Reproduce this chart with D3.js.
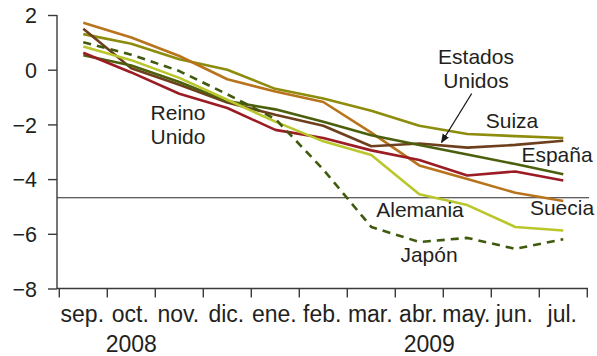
<!DOCTYPE html>
<html><head><meta charset="utf-8">
<script src="https://cdn.jsdelivr.net/npm/d3@7"></script>
<style>body{margin:0;background:#fff}svg{display:block}text{font-family:"Liberation Sans",Arial,sans-serif;fill:#231f20}</style>
</head><body>
<svg id="c" width="597" height="356"></svg>
<script>
const months = ["sep.","oct.","nov.","dic.","ene.","feb.","mar.","abr.","may.","jun.","jul."];
const yTicks = [2,0,-2,-4,-6,-8];
const refLine = -4.68;
const suiza   = [1.3, 0.95, 0.38, 0.0, -0.7, -1.05, -1.5, -2.05, -2.35, -2.43, -2.5];
const espana  = [0.53, 0.15, -0.45, -1.15, -1.45, -1.9, -2.4, -2.75, -3.1, -3.45, -3.82];
const eeuu    = [1.5, 0.05, -0.55, -1.2, -1.65, -2.05, -2.8, -2.7, -2.85, -2.75, -2.6];
const suecia  = [1.72, 1.18, 0.5, -0.35, -0.8, -1.18, -2.3, -3.5, -4.0, -4.5, -4.8];
const reino   = [0.62, -0.1, -0.88, -1.4, -2.2, -2.5, -2.95, -3.3, -3.87, -3.72, -4.05];
const alemania= [0.85, 0.35, -0.3, -1.1, -1.9, -2.62, -3.12, -4.55, -4.95, -5.75, -5.88];
const japon   = [1.0, 0.55, -0.05, -0.9, -1.8, -3.65, -5.75, -6.3, -6.15, -6.55, -6.2];

const series = [
  {name:"Suiza", v:suiza, c:"#8e8c0c"},
  {name:"Suecia", v:suecia, c:"#b8741c"},
  {name:"Estados Unidos", v:eeuu, c:"#6e3f1c"},
  {name:"España", v:espana, c:"#4b5f0c"},
  {name:"Reino Unido", v:reino, c:"#9b1c24"},
  {name:"Alemania", v:alemania, c:"#bac72c"},
  {name:"Japón", v:japon, c:"#3f5a0c", dash:"8,6"}
];

const svg = d3.select("#c");
const x = d3.scaleBand().domain(months).range([59.3, 587.3]);
const y = d3.scaleLinear().domain([-8, 2]).range([288.5, 15]);
const axisColor = "#3a3a3a";

svg.append("line").attr("x1", 57).attr("x2", 589).attr("y1", y(refLine)).attr("y2", y(refLine))
  .attr("stroke", "#2a2a2a").attr("stroke-width", 1.1);

const line = d3.line().x((d,i)=>x(months[i]) + x.bandwidth()/2).y(d=>y(d));
series.forEach(s=>{
  svg.append("path").datum(s.v).attr("d", line).attr("fill","none")
    .attr("stroke", s.c).attr("stroke-width", 2.6)
    .attr("stroke-dasharray", s.dash || null).attr("stroke-linejoin","round");
});

const yAxis = d3.axisLeft(y).tickValues(yTicks).tickSize(9).tickPadding(11)
  .tickFormat(d=> d<0 ? "\u2212"+Math.abs(d) : d);
const gy = svg.append("g").attr("transform","translate(57,0)").call(yAxis);
gy.select(".domain").attr("d", `M0,${y(2)}V${y(-8)+0.5}`).attr("stroke", axisColor).attr("stroke-width",1.4);
gy.selectAll(".tick line").attr("stroke", axisColor).attr("stroke-width",1.4);
gy.selectAll(".tick text").attr("font-size", 21.5).attr("dy","0.36em").style("font-family","Liberation Sans, Arial, sans-serif").attr("fill","#231f20");

const gx = svg.append("g").attr("transform",`translate(0,${y(-8)})`);
gx.append("line").attr("x1",57).attr("x2",588).attr("stroke",axisColor).attr("stroke-width",1.4);
const edges = months.map(m=>x(m)).concat([x.range()[1]]);
gx.selectAll("line.tk").data(edges).enter().append("line").attr("class","tk")
  .attr("x1",d=>d).attr("x2",d=>d).attr("y1",0).attr("y2",9).attr("stroke",axisColor).attr("stroke-width",1.4);
gx.selectAll("text.m").data(months).enter().append("text").attr("class","m")
  .attr("x",d=>x(d)+x.bandwidth()/2 - 1).attr("y",33).attr("text-anchor","middle")
  .attr("font-size",23).text(d=>d);
const years = [{t:"2008", m:"oct."},{t:"2009", m:"abr."}];
gx.selectAll("text.yr").data(years).enter().append("text").attr("class","yr")
  .attr("x",(d,i)=>x(d.m)+x.bandwidth()/2 + (i?10:0)).attr("y",63).attr("text-anchor","middle")
  .attr("font-size",23).text(d=>d.t);

const labels = [
  {t:["Reino","Unido"], x:178, y:120},
  {t:["Estados","Unidos"], x:476, y:64},
  {t:["Suiza"], x:512, y:128},
  {t:["España"], x:557, y:162},
  {t:["Alemania"], x:420, y:217},
  {t:["Suecia"], x:562, y:215},
  {t:["Japón"], x:429, y:262}
];
labels.forEach(l=>{
  const t = svg.append("text").attr("x",l.x).attr("y",l.y).attr("text-anchor","middle").attr("font-size",21);
  l.t.forEach((s,i)=>t.append("tspan").attr("x",l.x).attr("dy", i?23.5:0).text(s));
});

svg.append("defs").append("marker").attr("id","ah").attr("viewBox","0 0 10 10").attr("refX",9).attr("refY",5)
  .attr("markerWidth",7).attr("markerHeight",7).attr("orient","auto")
  .append("path").attr("d","M0,1L10,5L0,9Z").attr("fill","#1a1a1a");
svg.append("line").attr("x1",471.7).attr("y1",93.5).attr("x2",441.5).attr("y2",142.5)
  .attr("stroke","#1a1a1a").attr("stroke-width",1.3).attr("marker-end","url(#ah)");
</script>
</body></html>
